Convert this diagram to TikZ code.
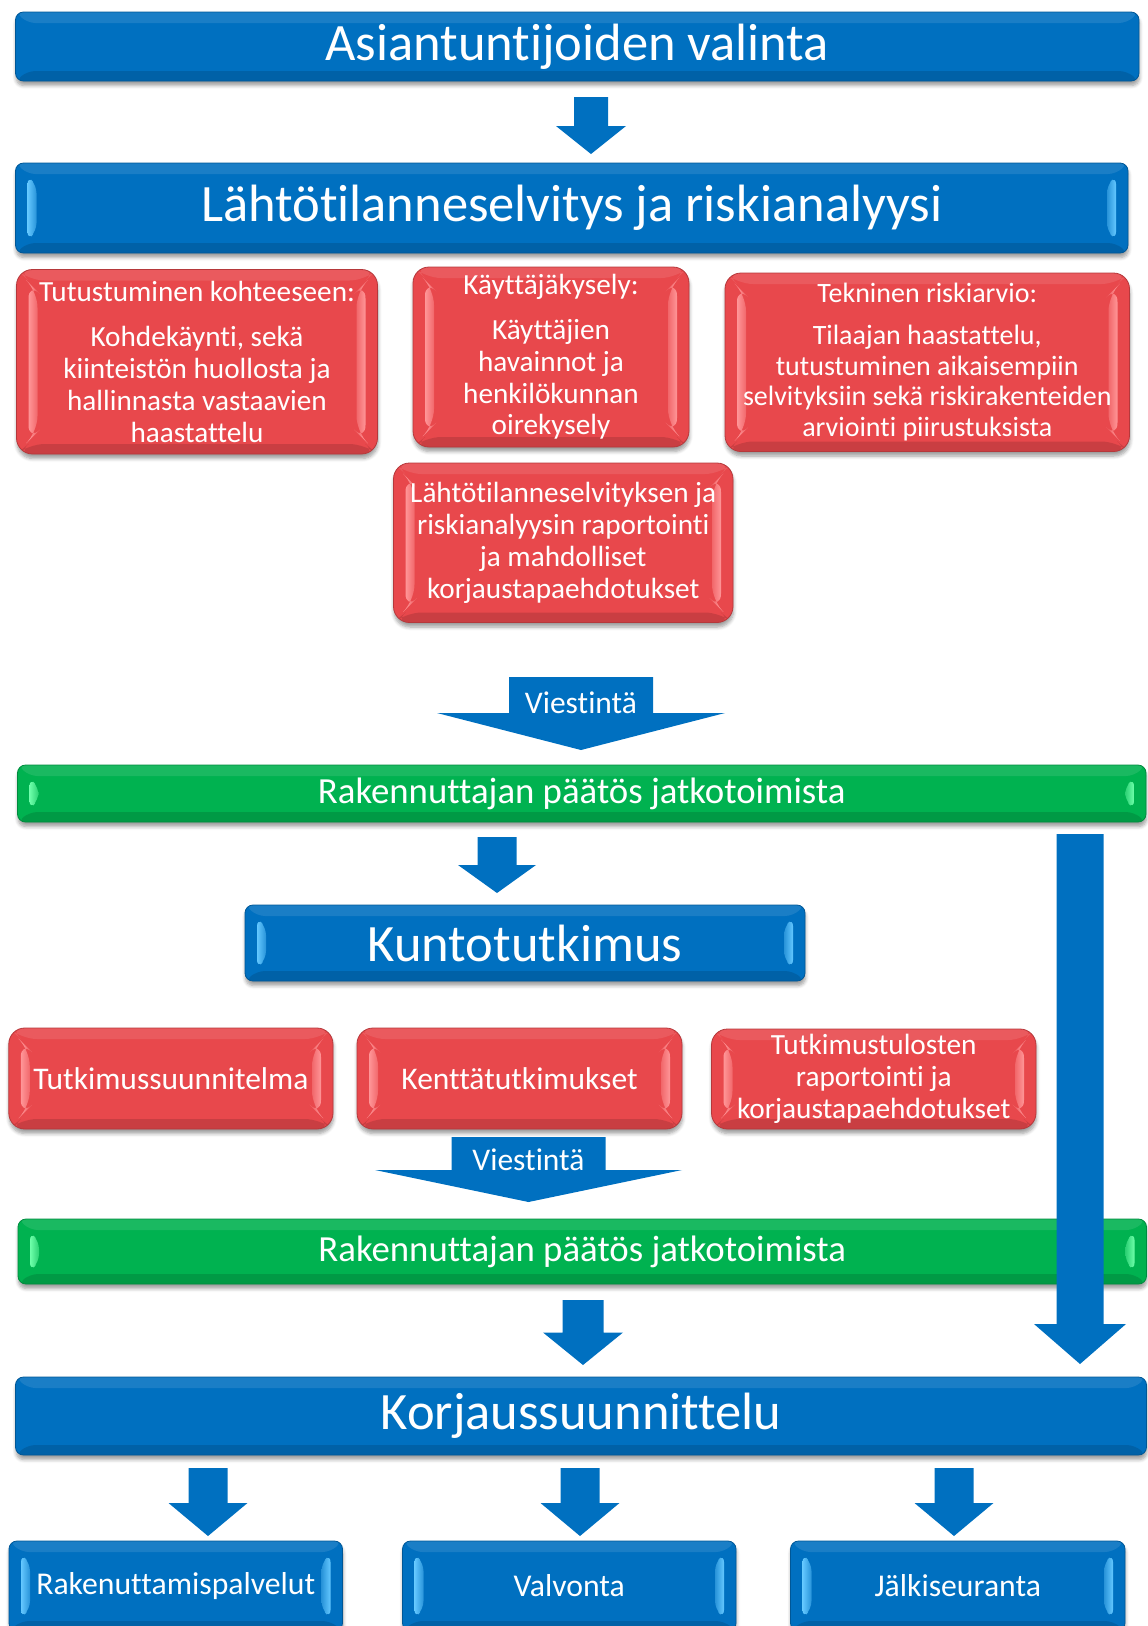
\documentclass[tikz,border=0pt]{standalone}
\usepackage{fontspec}
\setmainfont{Carlito}[Ligatures={NoCommon,NoContextual}]
\usetikzlibrary{shadows.blur}

\definecolor{boxblue}{RGB}{0,112,192}
\definecolor{boxbluelt}{RGB}{100,200,255}
\definecolor{boxgreen}{RGB}{0,178,80}
\definecolor{boxgreenlt}{RGB}{110,255,170}
\definecolor{boxred}{RGB}{232,72,76}
\definecolor{boxredlt}{RGB}{255,150,152}
\definecolor{arrowblue}{RGB}{0,112,192}

% sizes in the picture are given in pixels of a 1148 x 1626 sheet
\newcommand\fsz[1]{\fontsize{#1}{1.09\dimexpr#1pt\relax}\selectfont}

\newif\ifsidelights
\sidelightstrue

\tikzset{
  x=1pt, y=-1pt,
  nolights/.code={\sidelightsfalse},
  % glossy bevelled box: #1 base colour, #2 highlight colour
  bevelbox/.style n args={2}{
    fill=#1, draw=#1!78!black, line width=0.8pt,
    inner sep=0pt, align=center, text=white,
    blur shadow={shadow xshift=0.5pt, shadow yshift=-4.5pt,
      shadow blur radius=3.5pt, shadow blur steps=6, shadow opacity=38},
    path picture={
      \coordinate (nw) at (path picture bounding box.north west);
      \coordinate (se) at (path picture bounding box.south east);
      \coordinate (ne) at (se |- nw);
      \coordinate (sw) at (nw |- se);
      % top and bottom bevel faces
      \fill[white, opacity=0.10] (nw) -- (ne) -- ([shift={(-12pt,-11pt)}]ne)
        -- ([shift={(12pt,-11pt)}]nw) -- cycle;
      \fill[black, opacity=0.13] (sw) -- (se) -- ([shift={(-12pt,10pt)}]se)
        -- ([shift={(12pt,10pt)}]sw) -- cycle;
      % side highlights
      \ifsidelights
      \shade[left color=#2, right color=#2!40!#1]
        ([shift={(12pt,-13pt)}]nw) -- ([shift={(21pt,-22pt)}]nw)
        -- ([shift={(21pt,22pt)}]sw) -- ([shift={(12pt,13pt)}]sw) -- cycle;
      \shade[left color=#2!40!#1, right color=#2]
        ([shift={(-12pt,-13pt)}]ne) -- ([shift={(-21pt,-22pt)}]ne)
        -- ([shift={(-21pt,22pt)}]se) -- ([shift={(-12pt,13pt)}]se) -- cycle;
      \fi
    }
  },
  bluebox/.style={bevelbox={boxblue}{boxbluelt}, rounded corners=8pt},
  greenbox/.style={bevelbox={boxgreen}{boxgreenlt}, rounded corners=8pt},
  redbox/.style={bevelbox={boxred}{boxredlt}, rounded corners=16pt},
  arrowlabel/.style={text=white, font=\fsz{31.5}, anchor=base, inner sep=0pt},
}

% box from its corners: style, name, x1, y1, x2, y2, text
\newcommand\gbox[7]{%
  \node[#1, minimum width={#5-#3}, minimum height={#6-#4}]
    (#2) at ({(#3+#5)/2},{(#4+#6)/2}) {#7};}

% downward block arrow: centre x, top, half shaft, half head, head start, tip
\newcommand\blockarrow[6]{%
  \fill[arrowblue] ({#1-#3},{#2}) -- ({#1+#3},{#2}) -- ({#1+#3},{#5})
    -- ({#1+#4},{#5}) -- ({#1},{#6}) -- ({#1-#4},{#5}) -- ({#1-#3},{#5}) -- cycle;}

\begin{document}
\begin{tikzpicture}
\useasboundingbox (0,0) rectangle (1148,1626);

% --- selection of experts and initial survey
\gbox{bluebox, nolights, font=\fsz{52.5}}{sel}{15.5}{12}{1139}{81}{Asiantuntijoiden valinta}
\blockarrow{591}{97}{17}{35}{126}{154}
\gbox{bluebox, font=\fsz{52.5}}{survey}{15.5}{163}{1128}{253}{Lähtötilanneselvitys ja riskianalyysi}

\gbox{redbox, font=\fsz{29.2}}{visit}{16.5}{269.5}{377.5}{454}%
  {Tutustuminen kohteeseen:\\[14pt]Kohdekäynti, sekä\\kiinteistön huollosta ja\\hallinnasta vastaavien\\haastattelu}
\gbox{redbox, font=\fsz{29.2}}{users}{413}{267}{689}{447}%
  {Käyttäjäkysely:\\[13pt]Käyttäjien\\havainnot ja\\henkilökunnan\\oirekysely}
\gbox{redbox, font=\fsz{28}}{risk}{725}{273}{1129.5}{451.5}%
  {Tekninen riskiarvio:\\[11.5pt]Tilaajan haastattelu,\\tutustuminen aikaisempiin\\selvityksiin sekä riskirakenteiden\\arviointi piirustuksista}
\gbox{redbox, font=\fsz{29.2}}{report}{393.5}{463}{733}{622.5}%
  {Lähtötilanneselvityksen ja\\riskianalyysin raportointi\\ja mahdolliset\\korjaustapaehdotukset}

% --- first decision
\blockarrow{581}{677}{72}{144}{713}{750}
\node[arrowlabel] (msg1) at (581,713) {Viestintä};
\gbox{greenbox, font=\fsz{36.8}}{dec1}{17.5}{765}{1146}{822}{Rakennuttajan päätös jatkotoimista}
\blockarrow{497}{837}{19.5}{39}{865}{893}

% --- condition survey
\gbox{bluebox, font=\fsz{52.5}}{cond}{245}{905}{805}{981}{Kuntotutkimus}
\gbox{redbox, font=\fsz{31.5}}{plan}{8.8}{1028}{333}{1129}{Tutkimussuunnitelma}
\gbox{redbox, font=\fsz{31.5}}{field}{357}{1028}{682}{1129}{Kenttätutkimukset}
\gbox{redbox, font=\fsz{29.3}}{results}{711.5}{1029}{1036}{1129}%
  {Tutkimustulosten\\raportointi ja\\korjaustapaehdotukset}

\blockarrow{528.5}{1137}{77}{153.5}{1170}{1202}
\node[arrowlabel] (msg2) at (528.5,1170) {Viestintä};
\gbox{greenbox, font=\fsz{36.8}}{dec2}{18}{1219}{1146.5}{1284}{Rakennuttajan päätös jatkotoimista}

% bypass straight to repair design
\blockarrow{1080}{834}{23.5}{46}{1324}{1364}
\blockarrow{583}{1300}{20.5}{40}{1332.5}{1365}

% --- repair design and follow-up
\gbox{bluebox, nolights, font=\fsz{52.5}}{repair}{15.5}{1377}{1146.5}{1455}{Korjaussuunnittelu}
\blockarrow{208}{1468}{19.5}{39.5}{1503}{1536}
\blockarrow{580}{1468}{19.5}{39.5}{1503}{1536}
\blockarrow{954}{1468}{19.5}{39.5}{1503}{1536}
\gbox{bluebox, font=\fsz{31.7}}{build}{9}{1541}{342.5}{1631}{Rakenuttamispalvelut}
\gbox{bluebox, font=\fsz{31.7}}{super}{402.5}{1541}{736}{1631}{Valvonta}
\gbox{bluebox, font=\fsz{31.7}}{follow}{790.5}{1541}{1125}{1631}{Jälkiseuranta}
\end{tikzpicture}
\end{document}
